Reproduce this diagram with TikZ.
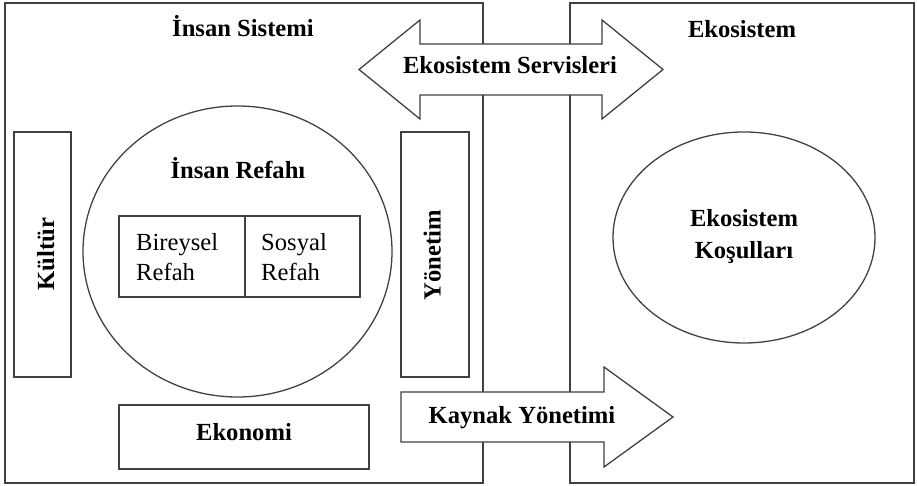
\documentclass[tikz,border=0pt]{standalone}
\usepackage{fontspec}
\setmainfont{Liberation Serif}
\usetikzlibrary{shapes.geometric}

\tikzset{
    box/.style = {draw = black!75, line width = 1.1pt, inner sep = 0pt},
    oval/.style = {box, ellipse},
    ttl/.style = {font = \fontsize{21}{26}\selectfont\bfseries, inner sep = 0pt},
    txt/.style = {font = \fontsize{21}{26}\selectfont, inner sep = 0pt, align = left},
    bigarrow/.style = {draw = black!75, line width = 1.1pt, fill = white}
}

\begin{document}
\begin{tikzpicture}[x = 0.03cm, y = -0.03cm]
    \useasboundingbox (0, 0) rectangle (917, 486);
    % the two systems
    \node[box, minimum width = 14.34cm, minimum height = 14.4cm] (insan) at (244, 243) {};
    \node[box, minimum width = 10.32cm, minimum height = 14.4cm] (eko) at (742, 243) {};
    \node[ttl, anchor = base] (insanT) at (243, 37) {İnsan Sistemi};
    \node[ttl, anchor = base] (ekoT) at (742, 37.5) {Ekosistem};
    % human side
    \node[box, minimum width = 1.71cm, minimum height = 7.35cm] (kultur) at (42.5, 254.5) {};
    \node[ttl, rotate = 90, anchor = base] (kulturT) at (54, 254) {Kültür};
    \node[box, minimum width = 2.04cm, minimum height = 7.35cm] (yonetim) at (435, 254.5) {};
    \node[ttl, rotate = 90, anchor = base] (yonetimT) at (440.7, 255) {Yönetim};
    \node[oval, minimum width = 9.27cm, minimum height = 8.73cm] (refah) at (237.5, 251.5) {};
    \node[ttl, anchor = base] (refahT) at (238, 179) {İnsan Refahı};
    \node[box, minimum width = 3.78cm, minimum height = 2.43cm] (bireysel) at (182, 256.5) {};
    \node[box, minimum width = 3.45cm, minimum height = 2.43cm] (sosyal) at (302.5, 256.5) {};
    \node[txt, anchor = west] (bireyselT) at (136, 257) {Bireysel\\Refah};
    \node[txt, anchor = west] (sosyalT) at (261, 257) {Sosyal\\Refah};
    \node[box, minimum width = 7.5cm, minimum height = 1.92cm] (ekonomi) at (244, 437) {};
    \node[ttl, anchor = base] (ekonomiT) at (244, 440.7) {Ekonomi};
    % ecosystem side
    \node[oval, minimum width = 7.86cm, minimum height = 6.33cm] (kosul) at (744, 237.5) {};
    \node[ttl, align = center, font = \fontsize{21}{27}\selectfont\bfseries] (kosulT) at (744, 236.5) {Ekosistem\\Koşulları};
    % flows between them
    \draw[bigarrow] (359, 69.5)--(420, 20)--(420, 44)--(602, 44)--(602, 20)--(663, 69.5)--(602, 119)--(602, 95)--(420, 95)--(420, 119)--cycle;
    \node[ttl, anchor = base] (servisT) at (510, 74) {Ekosistem Servisleri};
    \draw[bigarrow] (401, 392)--(604, 392)--(604, 367)--(673, 417)--(604, 467)--(604, 442)--(401, 442)--cycle;
    \node[ttl, anchor = base] (kaynakT) at (522, 424) {Kaynak Yönetimi};
\end{tikzpicture}
\end{document}
